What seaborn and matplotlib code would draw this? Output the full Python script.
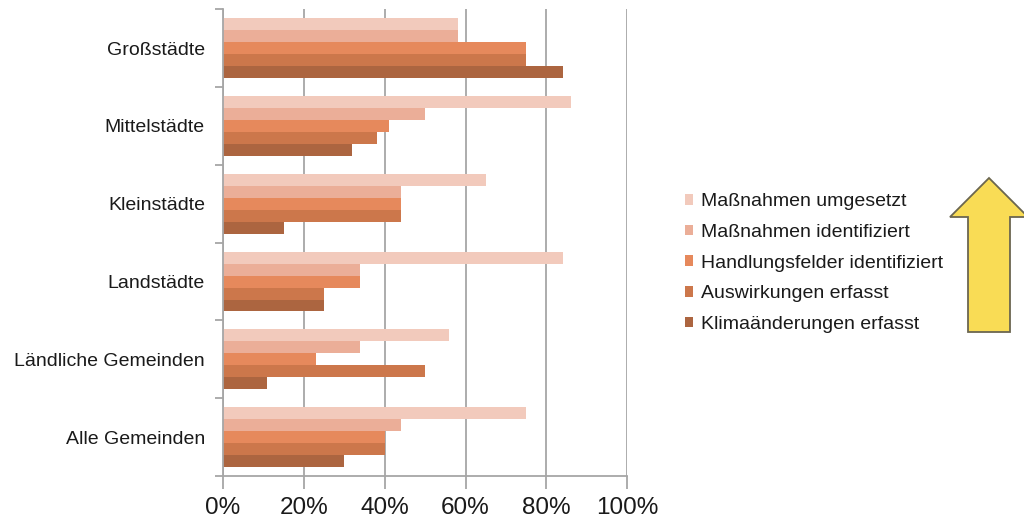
import matplotlib
matplotlib.use("Agg")
import matplotlib.pyplot as plt
from matplotlib.patches import Polygon
from matplotlib.ticker import FixedLocator, PercentFormatter
import seaborn as sns
import pandas as pd

# Gemeindetypen (top to bottom)
categories = ["Großstädte", "Mittelstädte", "Kleinstädte", "Landstädte",
              "Ländliche Gemeinden", "Alle Gemeinden"]

# Stufen der Anpassung (drawn top to bottom within each group)
series = ["Maßnahmen umgesetzt", "Maßnahmen identifiziert",
          "Handlungsfelder identifiziert", "Auswirkungen erfasst",
          "Klimaänderungen erfasst"]

# Anteile in Prozent, one list per series, in category order
massnahmen_umgesetzt = [58, 86, 65, 84, 56, 75]
massnahmen_identifiziert = [58, 50, 44, 34, 34, 44]
handlungsfelder_identifiziert = [75, 41, 44, 34, 23, 40]
auswirkungen_erfasst = [75, 38, 44, 25, 50, 40]
klimaaenderungen_erfasst = [84, 32, 15, 25, 11, 30]

x_ticks = [0, 20, 40, 60, 80, 100]

colors = ["#F2CABC", "#EBAE98", "#E6895C", "#CC774B", "#AC6540"]

values = [massnahmen_umgesetzt, massnahmen_identifiziert,
          handlungsfelder_identifiziert, auswirkungen_erfasst,
          klimaaenderungen_erfasst]
rows = []
for name, vals in zip(series, values):
    for cat, v in zip(categories, vals):
        rows.append({"Gemeindetyp": cat, "Stufe": name, "Anteil": v})
df = pd.DataFrame(rows)

sns.set_theme(style="white")
plt.rcParams["font.family"] = ["Liberation Sans", "DejaVu Sans"]

fig = plt.figure(figsize=(10.24, 5.2), dpi=100)
ax = fig.add_axes([0.2178, 0.0846, 0.3948, 0.8975])

sns.barplot(data=df, y="Gemeindetyp", x="Anteil", hue="Stufe",
            order=categories, hue_order=series, palette=colors,
            orient="h", width=0.77, gap=0, linewidth=0, saturation=1,
            ax=ax)

grid_color = "#A6A6A6"
ax.set_xlim(0, 100)
ax.set_ylim(len(categories) - 0.5, -0.5)
ax.xaxis.set_major_locator(FixedLocator(x_ticks))
ax.xaxis.set_major_formatter(PercentFormatter(decimals=0))
ax.grid(axis="x", color=grid_color, linewidth=1.3)
ax.set_axisbelow(True)
ax.set_xlabel("")
ax.set_ylabel("")

for side in ("top", "right"):
    ax.spines[side].set_visible(False)
for side in ("left", "bottom"):
    ax.spines[side].set_color(grid_color)
    ax.spines[side].set_linewidth(1.3)

ax.tick_params(axis="x", which="major", bottom=True, length=9, width=1.3,
               color=grid_color, direction="out", labelsize=17.5,
               labelcolor="#1A1A1A", pad=6)
ax.tick_params(axis="y", which="major", left=False, labelsize=14,
               labelcolor="#1A1A1A", pad=7)
ax.yaxis.set_minor_locator(FixedLocator([i - 0.5 for i in range(len(categories) + 1)]))
ax.tick_params(axis="y", which="minor", left=True, length=6, width=1.3,
               color=grid_color, direction="out")

handles, labels = ax.get_legend_handles_labels()
ax.get_legend().remove()
fig.legend(handles, labels, loc="center left", bbox_to_anchor=(0.659, 0.494),
           frameon=False, fontsize=14, handlelength=0.45, handleheight=0.45,
           handletextpad=0.4, labelspacing=0.7, borderpad=0,
           labelcolor="#1A1A1A")

# Yellow upward arrow at the right edge
W, H = 1024.0, 520.0
arrow_px = [(968, 332), (968, 217), (950, 217), (989, 178),
            (1028, 217), (1010, 217), (1010, 332)]
arrow = Polygon([(x / W, 1 - y / H) for x, y in arrow_px], closed=True,
                transform=fig.transFigure, facecolor="#F9DC55",
                edgecolor="#6B6650", linewidth=1.3, clip_on=False)
fig.patches.append(arrow)

fig.savefig("out.png", dpi=100)
